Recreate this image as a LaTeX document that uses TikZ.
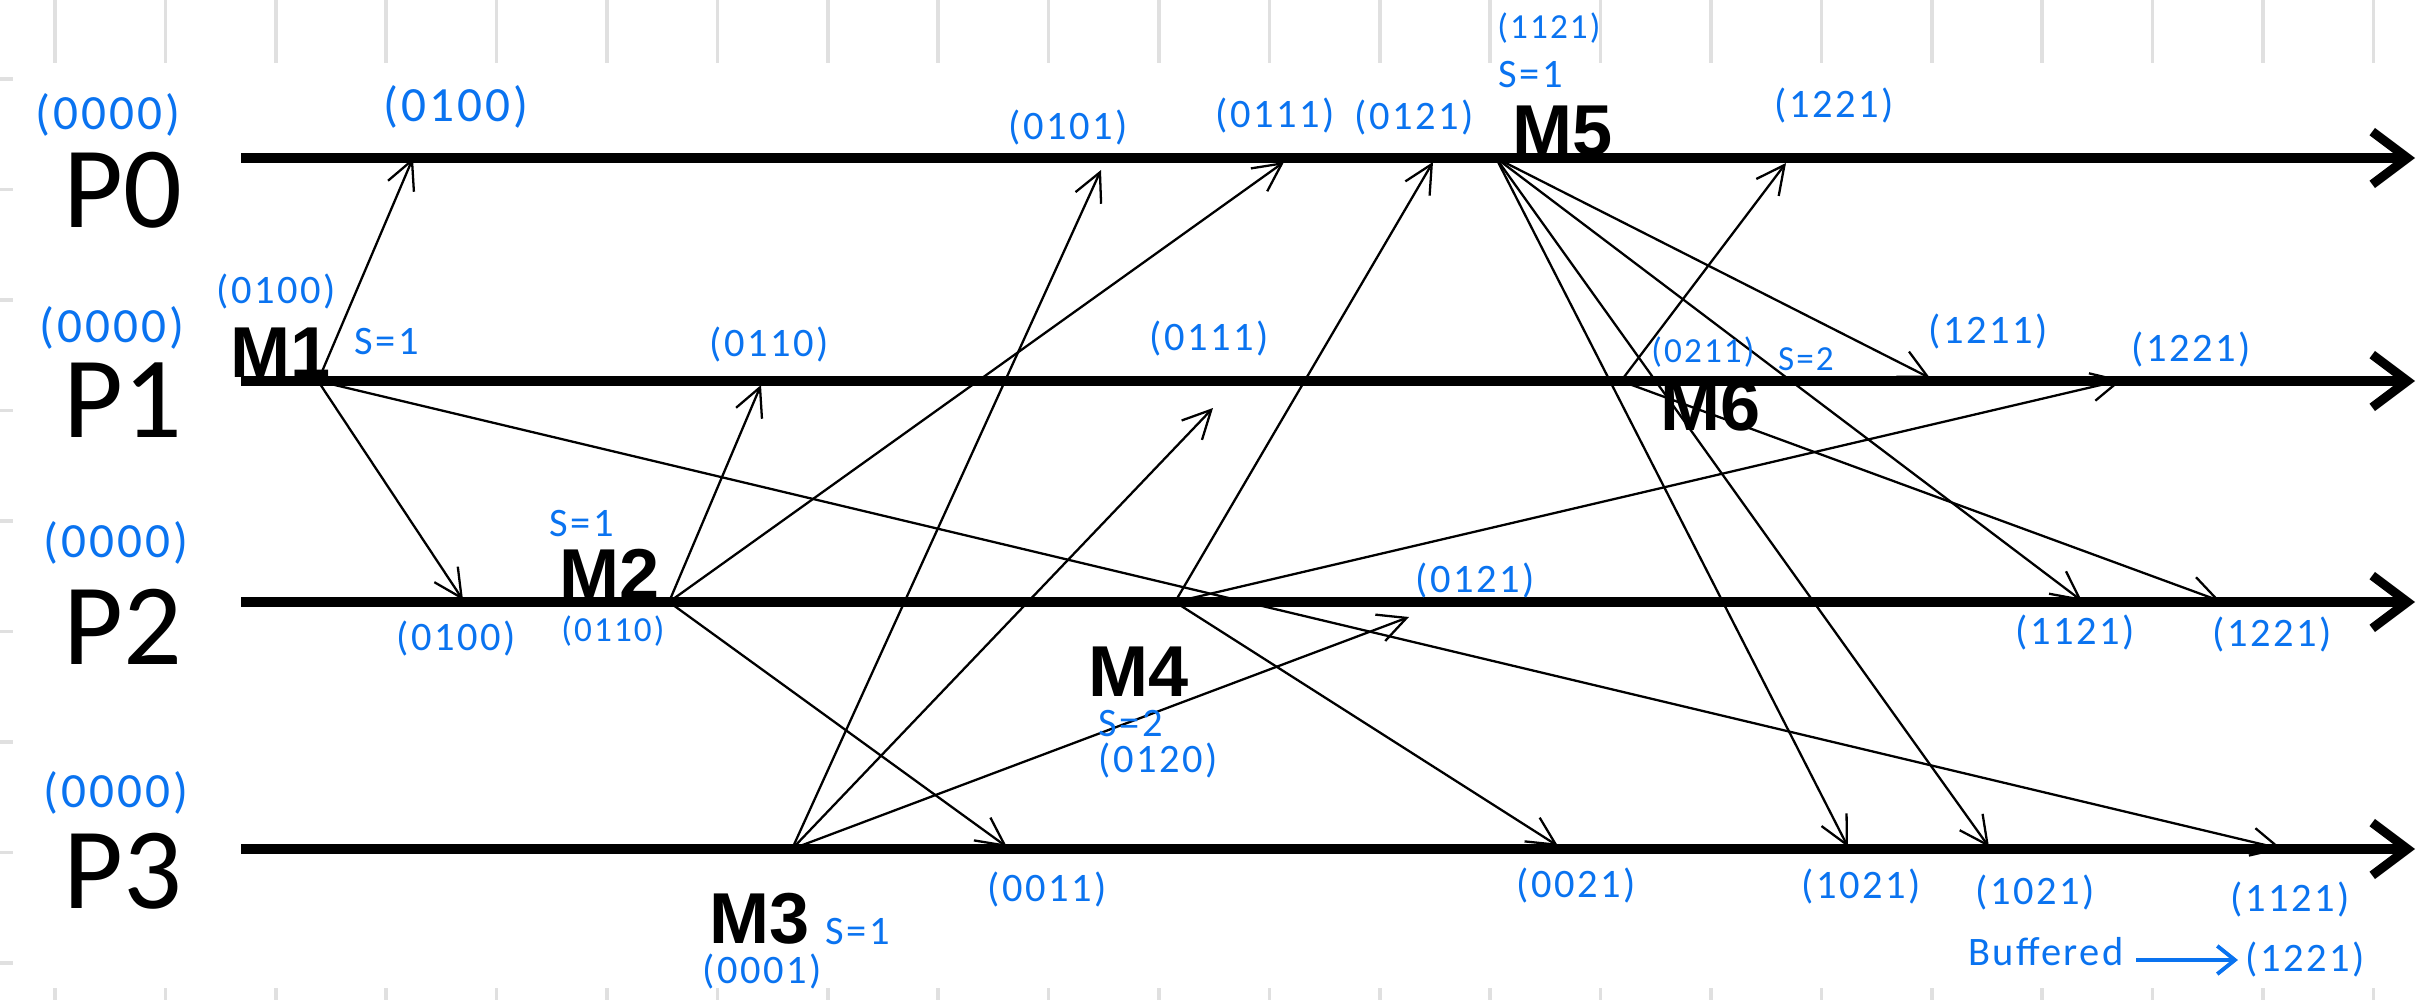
\documentclass[tikz,border=0pt]{standalone}
\usepackage{fontspec}
\setmainfont{Carlito}
\newfontfamily\msgfont{Liberation Sans}
\newfontfamily\handfont[LetterSpace=6]{Carlito}
\usetikzlibrary{arrows.meta}
\definecolor{ink}{RGB}{10,115,240}
\definecolor{gridgray}{RGB}{224,224,224}
\tikzset{
  proc/.style={anchor=base,inner sep=0pt,font=\fontsize{33}{33}\selectfont},
  msg/.style={anchor=base,inner sep=0pt,font=\msgfont\bfseries\fontsize{20.5}{20.5}\selectfont},
  vclock/.style={text=ink,inner sep=0pt,font=\handfont\fontsize{11.5}{11.5}\selectfont},
  vbig/.style={vclock,font=\handfont\fontsize{14}{14}\selectfont},
  vsmall/.style={vclock,font=\handfont\fontsize{10}{10}\selectfont},
  timeline/.style={line width=2.6pt,-{Straight Barb[length=10pt,width=15pt]}},
  send/.style={line width=0.65pt,-{Straight Barb[length=8pt,width=8pt]}},
  bufarrow/.style={ink,line width=1.1pt,-{Straight Barb[length=5pt,width=8pt]}},
  gridline/.style={gridgray,line width=1pt}
}
\begin{document}
\begin{tikzpicture}[x=0.01cm,y=-0.01cm]
          \path[fill=white] (0,0) rectangle (2435,1000);
          \useasboundingbox (0,0) rectangle (2435,1000);
          \foreach \k in {0,...,21}{
            \draw[gridline] ({55+110.4*\k},0) -- ++(0,63);
            \draw[gridline] ({55+110.4*\k},988) -- ++(0,12);
          }
          \foreach \k in {0,...,8}
            \draw[gridline] (0,{79+110.5*\k}) -- ++(13,0);
          \node[proc] (p_0) at (123,227){P0};
          \node[proc] (p_1) at (123,437){P1};
          \node[proc] (p_2) at (123,664){P2};
          \node[proc] (p_3) at (123,908){P3};
          \coordinate (s_0) at (241,158);
          \coordinate (s_1) at (241,381);
          \coordinate (s_2) at (241,602);
          \coordinate (s_3) at (241,849);
          \coordinate (t_0) at (2415,158);
          \coordinate (t_1) at (2415,381);
          \coordinate (t_2) at (2415,602);
          \coordinate (t_3) at (2415,849);
          \draw[timeline] (s_0) -- (t_0);
          \draw[timeline] (s_1) -- (t_1);
          \draw[timeline] (s_2) -- (t_2);
          \draw[timeline] (s_3) -- (t_3);
          \coordinate (e_1) at (318,381);
          \coordinate (e_2) at (669,602);
          \coordinate (e_3) at (792,849);
          \coordinate (e_4) at (1175,602);
          \coordinate (e_5) at (1496,158);
          \coordinate (e_6) at (1621,381);
          \coordinate (r_1) at (413,158);
          \coordinate (r_2) at (463,600);
          \coordinate (r_3) at (2282,849);
          \coordinate (r_4) at (761,385);
          \coordinate (r_5) at (1284,162);
          \coordinate (r_6) at (1007,847);
          \coordinate (r_7) at (1101,170);
          \coordinate (r_8) at (1213,408);
          \coordinate (r_9) at (1409,617);
          \coordinate (r_10) at (1433,162);
          \coordinate (r_11) at (2122,380);
          \coordinate (r_12) at (1558,846);
          \coordinate (r_13) at (1930,378);
          \coordinate (r_14) at (2082,601);
          \coordinate (r_15) at (1848,847);
          \coordinate (r_16) at (1989,847);
          \coordinate (r_17) at (1786,163);
          \coordinate (r_18) at (2220,601);
          \draw[send] (e_1) -- (r_1);
          \draw[send] (e_1) -- (r_2);
          \draw[send] (e_1) -- (r_3);
          \draw[send] (e_2) -- (r_4);
          \draw[send] (e_2) -- (r_5);
          \draw[send] (e_2) -- (r_6);
          \draw[send] (e_3) -- (r_7);
          \draw[send] (e_3) -- (r_8);
          \draw[send] (e_3) -- (r_9);
          \draw[send] (e_4) -- (r_10);
          \draw[send] (e_4) -- (r_11);
          \draw[send] (e_4) -- (r_12);
          \draw[send] (e_5) -- (r_13);
          \draw[send] (e_5) -- (r_14);
          \draw[send] (e_5) -- (r_15);
          \draw[send] (e_5) -- (r_16);
          \draw[send] (e_6) -- (r_17);
          \draw[send] (e_6) -- (r_18);
          \node[msg] (m_1) at (281,377){M1};
          \node[msg] (m_2) at (610,599){M2};
          \node[msg] (m_3) at (760,943){M3};
          \node[msg] (m_4) at (1139,696){M4};
          \node[msg] (m_5) at (1563,155){M5};
          \node[msg] (m_6) at (1711,430){M6};
          \node[vbig] (c_1) at (108,115){(0000)};
          \node[vbig] (c_2) at (112,328){(0000)};
          \node[vbig] (c_3) at (116,543){(0000)};
          \node[vbig] (c_4) at (116,793){(0000)};
          \node[vbig] (c_5) at (456,107){(0100)};
          \node[vclock] (c_6) at (276,292){(0100)};
          \node[vclock] (c_7) at (387,342){S=1};
          \node[vclock] (c_8) at (769,345){(0110)};
          \node[vclock] (c_9) at (1068,128){(0101)};
          \node[vclock] (c_10) at (1275,116){(0111)};
          \node[vclock] (c_11) at (1414,118){(0121)};
          \node[vsmall] (c_12) at (1549,28){(1121)};
          \node[vclock] (c_13) at (1531,75){S=1};
          \node[vclock] (c_14) at (1209,339){(0111)};
          \node[vclock] (c_15) at (1834,106){(1221)};
          \node[vclock] (c_16) at (1988,332){(1211)};
          \node[vclock] (c_17) at (2191,350){(1221)};
          \node[vsmall] (c_18) at (1703,352){(0211)};
          \node[vsmall] (c_19) at (1806,359){S=2};
          \node[vclock] (c_20) at (582,524){S=1};
          \node[vclock] (c_21) at (456,639){(0100)};
          \node[vsmall] (c_22) at (613,631){(0110)};
          \node[vclock] (c_23) at (762,972){(0001)};
          \node[vclock] (c_24) at (858,932){S=1};
          \node[vclock] (c_25) at (1475,581){(0121)};
          \node[vclock] (c_26) at (1131,724){S=2};
          \node[vclock] (c_27) at (1158,761){(0120)};
          \node[vclock] (c_28) at (1047,890){(0011)};
          \node[vclock] (c_29) at (1576,886){(0021)};
          \node[vclock] (c_30) at (2075,633){(1121)};
          \node[vclock] (c_31) at (2272,635){(1221)};
          \node[vclock] (c_32) at (1861,887){(1021)};
          \node[vclock] (c_33) at (2035,893){(1021)};
          \node[vclock] (c_34) at (2290,900){(1121)};
          \node[vclock] (buf) at (2046,952){Buffered};
          \node[vclock] (c_35) at (2305,960){(1221)};
          \draw[bufarrow] (buf.east |- c_35.west) ++(12,0) -- ([xshift=-2pt]c_35.west);
        \end{tikzpicture}
\end{document}
